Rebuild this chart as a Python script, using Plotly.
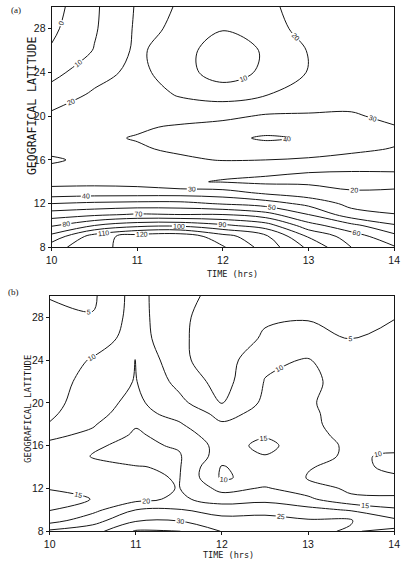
import plotly.graph_objects as go

# ---------------- data ----------------
time_hrs = [10, 10.5, 11, 11.5, 12, 12.5, 13, 13.5, 14]
latitude = [8, 9, 10, 11, 12, 13, 14, 15, 16, 17, 18, 19, 20, 22, 24, 26, 28, 30]
x_ticks = [10, 11, 12, 13, 14]
y_ticks = [8, 12, 16, 20, 24, 28]

# panel (a): one list per time column, values from lat 8 (first) to lat 30 (last)
a_t1000 = [106, 93, 79, 65, 50, 34, 27, 28, 31, 28, 27, 25, 22, 14, 7, 1, -2, -4]
a_t1050 = [117, 115, 90, 68, 52, 35, 27, 27, 28, 28.5, 28.5, 27.5, 26, 21.5, 16, 10.5, 9, 8.5]
a_t1100 = [124, 125, 97, 71, 53, 35, 26, 25.5, 27, 29, 30.5, 29, 27.5, 25, 23, 22, 21.5, 21]
a_t1150 = [126, 127, 98, 70, 53, 35, 21, 24, 28.5, 31.5, 33, 31, 27, 19, 14, 13.5, 19, 19.8]
a_t1200 = [121, 114, 92, 70, 49, 34, 19.5, 22, 30.5, 34, 37, 33, 28, 16, 5, 5, 10.5, 14]
a_t1250 = [106, 102, 85, 64, 45, 28, 18, 22, 30, 35, 41.5, 35, 31, 19.5, 12, 11, 14, 17]
a_t1300 = [88, 79, 64, 50, 37, 24, 18.5, 20.3, 29, 34, 39, 35, 31, 24, 20.5, 20.5, 25, 26]
a_t1350 = [70, 65, 53, 34, 27, 20.5, 18.5, 20.1, 27, 32, 35, 34, 31, 26, 24, 23, 24, 25]
a_t1400 = [61, 53, 41, 30.5, 24, 20.5, 19, 20.1, 25, 29.5, 32, 30.5, 28, 25, 24, 23, 23, 24]

# panel (b)
b_t1000 = [26, 18, 14.8, 13.5, 15.2, 16.5, 17, 17, 16, 14, 10.3, 9, 8, 7, 6.5, 6.5, 6, 4.8]
b_t1050 = [28, 23, 18.5, 15.1, 16.5, 18, 19, 20.2, 19.5, 16, 14.5, 14, 13.5, 12.5, 10.5, 7, 5.3, 4.2]
b_t1100 = [35.5, 29.5, 25, 18.5, 18, 19, 19.8, 21.5, 21, 20.8, 19.5, 16.5, 16, 15.2, 15.2, 12.5, 12, 12]
b_t1150 = [35.2, 29.8, 25.3, 21, 20.2, 20.3, 20.5, 20.5, 19.5, 17.5, 15.5, 13.5, 11.5, 8.5, 6, 5.8, 5.8, 5.5]
b_t1200 = [29.8, 26.5, 23, 17.5, 13.5, 9.3, 9.6, 12.5, 13, 12, 10.5, 8.5, 4.8, 3, 2.5, 2.5, 3, 4.5]
b_t1250 = [27, 26.5, 23.5, 18.5, 15.5, 12, 13, 14.8, 16.2, 14.5, 12.5, 11.5, 11, 10.2, 9, 5.5, 4.5, 4.3]
b_t1300 = [26, 25.5, 21.5, 16, 12.5, 9.8, 10.2, 11, 12.5, 11.5, 11, 10.8, 10.5, 10.8, 10.3, 6, 4.8, 4]
b_t1350 = [24.5, 25.3, 19.5, 11, 9, 8.5, 9, 9.5, 9, 8.5, 8, 8, 8, 8.5, 7.5, 4.9, 4.6, 4]
b_t1400 = [26.5, 21, 16, 10.5, 9, 9.5, 10.8, 10.5, 9, 8.5, 8, 8, 8, 8, 7.5, 6.5, 4.8, 4.2]

a_cols = [a_t1000, a_t1050, a_t1100, a_t1150, a_t1200, a_t1250, a_t1300, a_t1350, a_t1400]
b_cols = [b_t1000, b_t1050, b_t1100, b_t1150, b_t1200, b_t1250, b_t1300, b_t1350, b_t1400]
za = [list(r) for r in zip(*a_cols)]
zb = [list(r) for r in zip(*b_cols)]

W, H = 406, 561
INK = "#161616"


def contour(z, start, end, size, xa, ya):
    return go.Contour(
        x=time_hrs, y=latitude, z=z,
        contours=dict(coloring="none", start=start, end=end, size=size,
                      showlabels=True,
                      labelfont=dict(size=7, color=INK, family="Liberation Sans")),
        showscale=False,
        line=dict(width=1, smoothing=1.0, color=INK),
        hoverinfo="skip", xaxis=xa, yaxis=ya,
    )


fig = go.Figure()
fig.add_trace(contour(za, 0, 120, 10, "x", "y"))
fig.add_trace(contour(zb, 5, 35, 5, "x2", "y2"))

ax_common = dict(showline=True, mirror=True, linecolor=INK, linewidth=1,
                 ticks="outside", ticklen=3, tickcolor=INK, showgrid=False,
                 zeroline=False, tickfont=dict(size=10.5, family="Liberation Sans", color=INK))

fig.update_layout(
    width=W, height=H, autosize=False,
    margin=dict(l=0, r=0, t=0, b=0),
    paper_bgcolor="white", plot_bgcolor="white",
    showlegend=False,
    xaxis=dict(domain=[47 / W, 400 / W], range=[10, 14], tickvals=x_ticks, anchor="y", **ax_common),
    yaxis=dict(domain=[1 - 250 / H, 1 - 7 / H], range=[8, 30], tickvals=y_ticks, anchor="x", **ax_common),
    xaxis2=dict(domain=[45 / W, 400 / W], range=[10, 14], tickvals=x_ticks, anchor="y2", **ax_common),
    yaxis2=dict(domain=[1 - 537 / H, 1 - 299 / H], range=[8, 30], tickvals=y_ticks, anchor="x2", **ax_common),
)

mono = "DejaVu Sans Mono"
ann = [
    dict(text="(a)", x=10 / W, y=1 - 10 / H, font=dict(size=9, family="Liberation Serif")),
    dict(text="(b)", x=8 / W, y=1 - 295 / H, font=dict(size=9, family="Liberation Serif")),
    dict(text="GEOGRAFICAL LATITUDE", x=27 / W, y=1 - 107 / H, textangle=-90,
         font=dict(size=11.5, family=mono)),
    dict(text="GEOGRAFICAL LATITUDE", x=22 / W, y=1 - 413 / H, textangle=-90,
         font=dict(size=9, family=mono)),
    dict(text="TIME (hrs)", x=233 / W, y=1 - 277 / H, font=dict(size=8.5, family=mono)),
    dict(text="TIME (hrs)", x=229 / W, y=0.0, font=dict(size=8.5, family=mono)),
]
for a in ann:
    a.update(xref="paper", yref="paper", showarrow=False, xanchor="center",
             yanchor="middle", borderpad=0)
    a["font"]["color"] = INK
fig.update_layout(annotations=ann)

fig.write_html("out.html")
